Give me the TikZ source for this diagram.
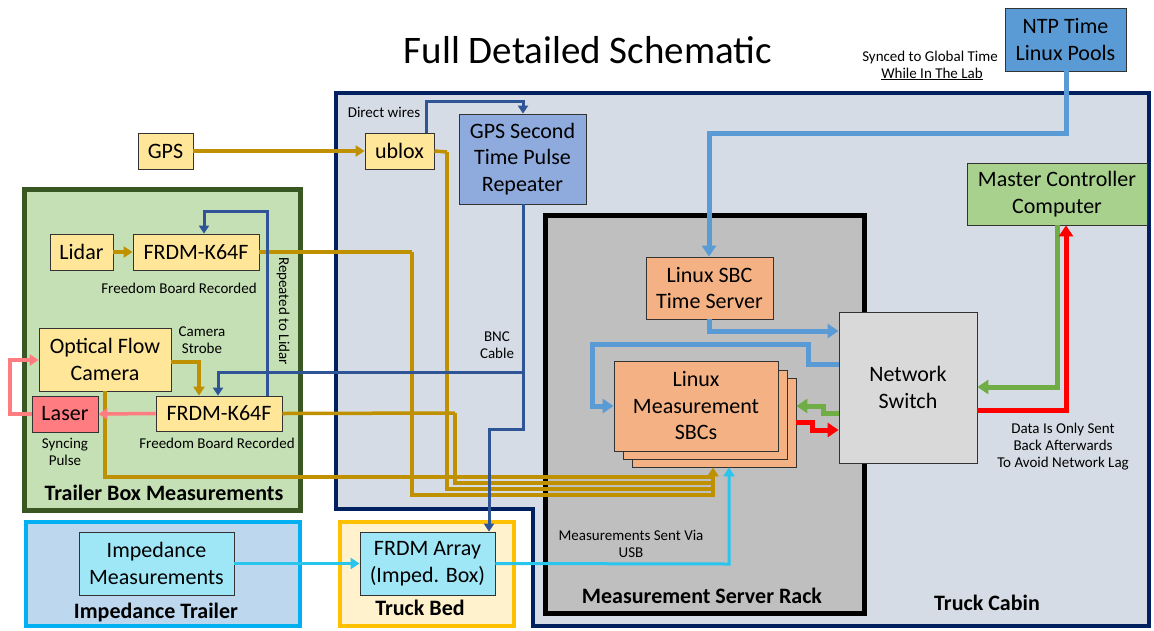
\documentclass[tikz,border=0pt]{standalone}
\usepackage{fontspec}
\setmainfont{Carlito}
\usetikzlibrary{arrows.meta}
\definecolor{navy}{HTML}{002060}
\definecolor{cabinfill}{HTML}{D6DCE5}
\definecolor{rackfill}{HTML}{BFBFBF}
\definecolor{trfill}{HTML}{C5E0B4}
\definecolor{trborder}{HTML}{385723}
\definecolor{imfill}{HTML}{BDD7EE}
\definecolor{imborder}{HTML}{00B0F0}
\definecolor{bedfill}{HTML}{FFF2CC}
\definecolor{bedborder}{HTML}{FFC000}
\definecolor{yel}{HTML}{FFE699}
\definecolor{laserc}{HTML}{FF7C80}
\definecolor{repc}{HTML}{8FAADC}
\definecolor{ntpc}{HTML}{5B9BD5}
\definecolor{orc}{HTML}{F4B183}
\definecolor{swc}{HTML}{D9D9D9}
\definecolor{mcc}{HTML}{A9D18E}
\definecolor{cyfill}{HTML}{9FE7F7}
\definecolor{goldl}{HTML}{BF9000}
\definecolor{dbl}{HTML}{2F5597}
\definecolor{lbl}{HTML}{5B9BD5}
\definecolor{gnl}{HTML}{70AD47}
\definecolor{rdl}{HTML}{FF0000}
\definecolor{pkl}{HTML}{FF7C80}
\definecolor{cyl}{HTML}{29C5EC}
\newcommand\bxf{\fontsize{22}{26.5}\selectfont}
\newcommand\smf{\fontsize{15}{17}\selectfont}
\newcommand\lbf{\fontsize{22}{26}\selectfont\bfseries}
\newcommand\ttlf{\fontsize{39}{44}\selectfont}
\newcommand\bx[7]{\node[box,fill=#6,minimum width={(#4-#2)*1pt},minimum height={(#5-#3)*1pt}] (#1) at ({(#2+#4)/2},{(#3+#5)/2}) {#7};}
\tikzset{
  box/.style={draw=black!80,line width=0.8pt,inner sep=0pt,align=center,font=\bxf},
  sm/.style={inner sep=0pt,align=center,font=\smf},
  lb/.style={inner sep=0pt,align=center,font=\lbf},
  gw/.style={draw=goldl,line width=3.5pt},
  gwa/.style={gw,-{Triangle[length=9pt,width=11pt]}},
  db/.style={draw=dbl,line width=3pt,-{Triangle[length=8pt,width=10pt]}},
  lbw/.style={draw=lbl,line width=5pt,-{Triangle[length=11pt,width=14pt]}},
  gnw/.style={draw=gnl,line width=5pt,-{Triangle[length=11pt,width=14pt]}},
  rdw/.style={draw=rdl,line width=5pt,-{Triangle[length=11pt,width=14pt]}},
  pkw/.style={draw=pkl,line width=3.5pt,-{Triangle[length=9pt,width=11pt]}},
  cyw/.style={draw=cyl,line width=3pt,-{Triangle[length=9pt,width=11pt]}},
}
\begin{document}
\begin{tikzpicture}[x=1pt,y=-1pt]
\useasboundingbox (0,0) rectangle (1154,630);
% regions
\draw[line width=4pt,draw=navy,fill=cabinfill] (336,93) -- (1149,93) -- (1149,626) -- (533,626) -- (533,509) -- (336,509) -- cycle;
\draw[line width=5pt,draw=black,fill=rackfill] (545,215) rectangle (864,613);
\draw[line width=5pt,draw=trborder,fill=trfill] (24,189) rectangle (300,510);
\draw[line width=4.5pt,draw=imborder,fill=imfill] (26,522) rectangle (300,626);
\draw[line width=4.5pt,draw=bedborder,fill=bedfill] (340,522) rectangle (514,626);
% title and labels
\node[inner sep=0pt,font=\ttlf] (title) at (588,50) {Full Detailed Schematic};
\node[sm,anchor=east] (sync) at (998,57) {Synced to Global Time};
\node[sm] (lab) at (932,74) {\underline{While In The Lab}};
\node[sm] (dw) at (384,112) {Direct wires};
\node[sm] (fbr1) at (179,288) {Freedom Board Recorded};
\node[sm,rotate=-90] (rep2l) at (283,311) {Repeated to Lidar};
\node[sm] (cs) at (202,340) {Camera\\Strobe};
\node[sm] (sp) at (65,452) {Syncing\\Pulse};
\node[sm] (fbr2) at (217,443) {Freedom Board Recorded};
\node[sm] (bnc) at (497,345) {BNC\\Cable};
\node[sm] (usb) at (631,544) {Measurements Sent Via\\USB};
\node[sm] (dat) at (1063,447) {Data Is Only Sent\\Back Afterwards\\To Avoid Network Lag};
\node[lb] (ltb) at (164,493) {Trailer Box Measurements};
\node[lb] (lit) at (156,612) {Impedance Trailer};
\node[lb] (ltbd) at (420,608) {Truck Bed};
\node[lb] (lmsr) at (702,596) {Measurement Server Rack};
\node[lb] (ltc) at (987,603) {Truck Cabin};
% gold wires
\draw[gw] (412,252) -- (412,495) -- (713,495);
\draw[gw] (447,152) -- (447,489) -- (713,489);
\draw[gw] (455,413) -- (455,483) -- (713,483);
\draw[gw] (105,391) -- (105,477) -- (713,477);
% boxes
\bx{ntp}{1005}{8}{1126}{71}{ntpc}{NTP Time\\Linux Pools}
\bx{gps}{138}{133}{193}{169}{yel}{GPS}
\bx{ublox}{365}{133}{434}{169}{yel}{ublox}
\bx{rep}{459}{114}{586}{204}{repc}{GPS Second\\Time Pulse\\Repeater}
\bx{lidar}{50}{234}{113}{270}{yel}{Lidar}
\bx{fa}{133}{234}{259}{270}{yel}{FRDM-K64F}
\bx{cam}{39}{328}{171}{391}{yel}{Optical Flow\\Camera}
\bx{laser}{32}{396}{98}{432}{laserc}{Laser}
\bx{fb}{156}{396}{282}{431}{yel}{FRDM-K64F}
\bx{ts}{646}{257}{773}{319}{orc}{Linux SBC\\Time Server}
\bx{sbcc}{632}{378}{796}{467}{orc}{}
\bx{sbcb}{623}{370}{787}{459}{orc}{}
\bx{sbca}{614}{361}{778}{451}{orc}{Linux\\Measurement\\SBCs}
\bx{sw}{839}{312}{977}{463}{swc}{Network\\Switch}
\bx{mc}{967}{163}{1147}{225}{mcc}{Master Controller\\Computer}
\bx{imp}{79}{532}{234}{595}{cyfill}{Impedance\\Measurements}
\bx{arr}{360}{532}{495}{595}{cyfill}{FRDM Array\\(Imped. Box)}
% gold connections from nodes
\draw[gwa] (gps.east) -- (ublox.west);
\draw[gwa] (lidar.east) -- (fa.west);
\draw[gw] (fa.east) -- (412,252);
\draw[gw] (ublox.east) -- (447,152);
\draw[gw] (fb.east) -- (455,413);
\draw[gw] (cam.south) -- (105,395);
\draw[gwa] (713,497) -- (sbcc.south -| 713,0);
\draw[gwa] (cam.east |- 0,362) -- (199,362) -- (fb.north -| 199,0);
% pink
\draw[pkw] (fb.west) -- (laser.east);
\draw[pkw] (laser.west) -- (10,414) -- (10,360) -- (cam.west |- 0,360);
% dark blue
\draw[db] (ublox.north -| 426,0) -- (426,101) -- (523,101) -- (rep.north -| 523,0);
\draw[db] (rep.south -| 523,0) -- (523,429) -- (489,429) -- (arr.north -| 489,0);
\draw[db] (523,372) -- (218,372) -- (fb.north -| 218,0);
\draw[db] (fb.north -| 267,0) -- (267,211) -- (204,211) -- (fa.north -| 204,0);
% light blue
\draw[lbw] (ntp.south -| 1066,0) -- (1066,133) -- (709,133) -- (ts.north -| 709,0);
\draw[lbw] (ts.south -| 709,0) -- (709,331) -- (sw.west |- 0,331);
\draw[lbw] (sw.west |- 0,364) -- (808,364) -- (808,344) -- (592,344) -- (592,406) -- (sbca.west |- 0,406);
% green
\draw[gnw] (mc.south -| 1057,0) -- (1057,387) -- (sw.east |- 0,387);
\draw[gnw] (sw.west |- 0,413) -- (823,413) -- (823,406) -- (sbcc.east |- 0,406);
% red
\draw[rdw] (sw.east |- 0,410) -- (1066,410) -- (mc.south -| 1066,0);
\draw[rdw] (sbcc.east |- 0,422) -- (812,422) -- (812,430) -- (sw.west |- 0,430);
% cyan
\draw[cyw] (imp.east) -- (arr.west);
\draw[cyw] (arr.east) -- (729,564) -- (sbcc.south -| 729,0);
\end{tikzpicture}
\end{document}
